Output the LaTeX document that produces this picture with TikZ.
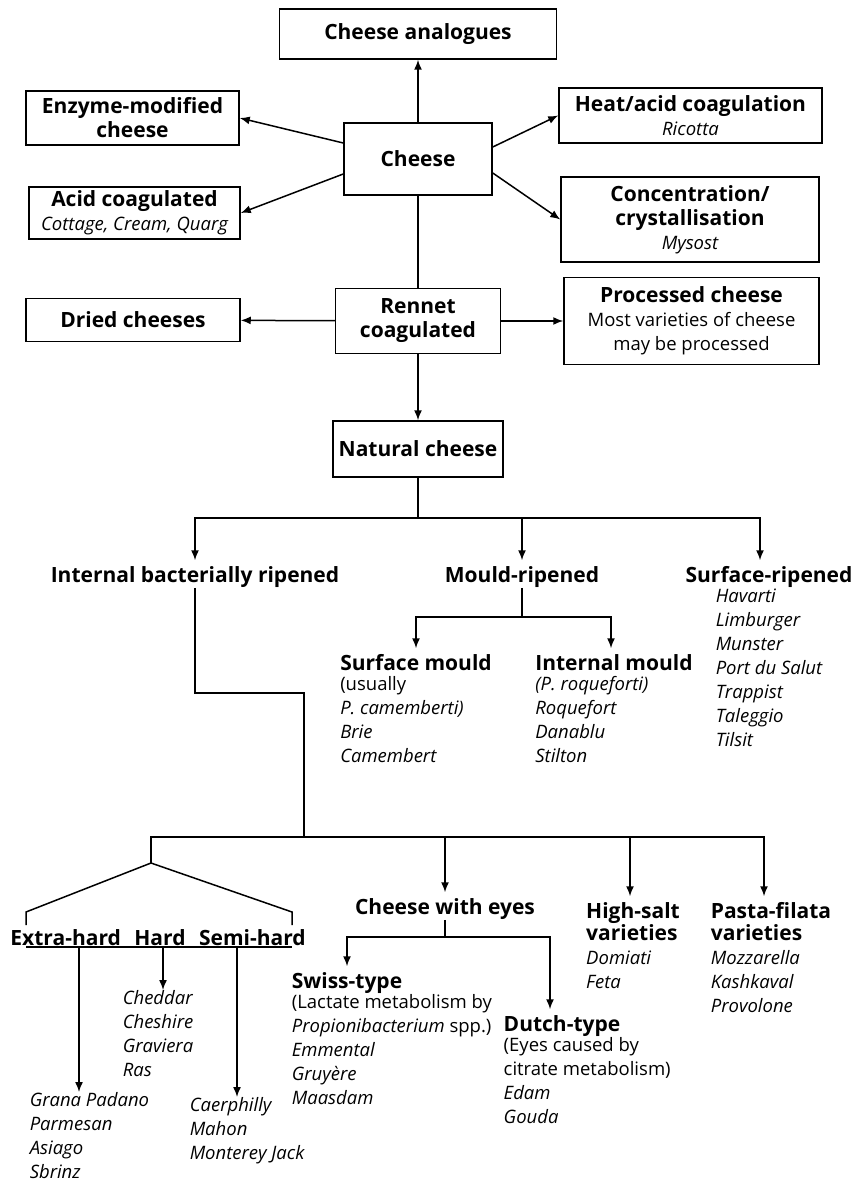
\documentclass[tikz,border=0pt]{standalone}
\usepackage{fontspec}
\setmainfont{Open Sans}
\usetikzlibrary{arrows.meta,positioning}
\newcommand{\chsize}{\fontsize{18.5}{24}\selectfont}
\newcommand{\chhead}{\fontsize{21}{24}\selectfont\bfseries}

\begin{document}
\begin{tikzpicture}[x=1pt,y=-1pt,>={Latex[length=10pt,width=8pt]},line width=1.5pt,
    box/.style={draw,align=center,font=\chhead,inner sep=2pt},
    head/.style={font=\chhead,inner sep=0pt,text height=21pt,text depth=5pt},
    kinds/.style={font=\chsize\itshape,align=left,inner sep=0pt,anchor=north west,execute at begin node=\strut}]
    \useasboundingbox (0,0) rectangle (855,1182);

    \node[box,minimum width=277pt,minimum height=50pt] (analog) at (418,34) {Cheese analogues};
    \node[box,minimum width=213pt,minimum height=54pt] (enzyme) at (132.5,118) {Enzyme-modified\\cheese};
    \node[box,minimum width=263pt,minimum height=55pt] (heat) at (690.5,115.5) {Heat/acid coagulation\\{\chsize\mdseries\itshape Ricotta}};
    \node[box,minimum width=148pt,minimum height=72pt] (cheese) at (418,159) {Cheese};
    \node[box,minimum width=211pt,minimum height=52pt] (acid) at (134.5,213) {Acid coagulated\\{\chsize\mdseries\itshape Cottage, Cream, Quarg}};
    \node[box,minimum width=258pt,minimum height=85pt] (conc) at (690,219.5) {Concentration/\\crystallisation\\{\chsize\mdseries\itshape Mysost}};
    \node[box,minimum width=214pt,minimum height=43pt] (dried) at (133,320) {Dried cheeses};
    \node[box,minimum width=165pt,minimum height=65pt] (rennet) at (418,321) {Rennet\\coagulated};
    \node[box,minimum width=255pt,minimum height=87pt] (proc) at (691.5,321) {Processed cheese\\{\chsize\mdseries Most varieties of cheese}\\{\chsize\mdseries may be processed}};
    \node[box,minimum width=170pt,minimum height=56pt] (natural) at (418,449) {Natural cheese};

    \node[head] (ibr) at (195,574) {Internal bacterially ripened};
    \node[head] (mould) at (522,574) {Mould-ripened};
    \node[head] (surf) at (769,574) {Surface-ripened};
    \node[kinds] (surflist) at ([xshift=-54pt]surf.south) {Havarti\\Limburger\\Munster\\Port du Salut\\Trappist\\Taleggio\\Tilsit};

    \node[head] (smould) at (416,662) {Surface mould};
    \node[kinds] (smlist) at (smould.south west) {{\upshape (usually}\\P. camemberti)\\Brie\\Camembert};
    \node[head] (imould) at (614,662) {Internal mould};
    \node[kinds] (imlist) at (imould.south west) {(P. roqueforti)\\Roquefort\\Danablu\\Stilton};

    \node[head] (hard) at (160,937) {Hard};
    \node[head,left=12pt of hard] (xhard) {Extra-hard};
    \node[head,right=12pt of hard] (shard) {Semi-hard};
    \node[kinds] (xhlist) at (29,1092) {Grana Padano\\Parmesan\\Asiago\\Sbrinz};
    \node[kinds] (hdlist) at (122,990) {Cheddar\\Cheshire\\Graviera\\Ras};
    \node[kinds] (shlist) at (189,1097) {Caerphilly\\Mahon\\Monterey Jack};

    \node[head] (eyes) at (445,906) {Cheese with eyes};
    \node[head] (swiss) at (347,980) {Swiss-type};
    \node[kinds] (swlist) at (swiss.south west) {{\upshape (Lactate metabolism by}\\Propionibacterium {\upshape spp.)}\\Emmental\\Gruyère\\Maasdam};
    \node[head] (dutch) at (562,1023) {Dutch-type};
    \node[kinds] (dulist) at (dutch.south west) {{\upshape (Eyes caused by}\\{\upshape citrate metabolism)}\\Edam\\Gouda};

    \node[head] (hsalt) at (633,910) {High-salt};
    \node[kinds] (hslist) at (hsalt.south west) {{\upshape\chhead varieties}\\Domiati\\Feta};
    \node[head] (pasta) at (771,910) {Pasta-filata};
    \node[kinds] (palist) at (pasta.south west) {{\upshape\chhead varieties}\\Mozzarella\\Kashkaval\\Provolone};

    \coordinate (natfork) at (418,518);
    \coordinate (mouldfork) at (522,617);
    \coordinate (ibrbend) at (304,693);
    \coordinate (lowfork) at (304,837);
    \coordinate (roof) at (151,863);
    \coordinate (roofl) at (26,912);
    \coordinate (roofr) at (292,912);
    \coordinate (footl) at (26,925);
    \coordinate (footr) at (292,925);
    \coordinate (ull) at (26,947);
    \coordinate (ulr) at (292,947);
    \coordinate (ulx) at (79,947);
    \coordinate (ulh) at (163,947);
    \coordinate (uls) at (237,947);
    \coordinate (eyesfork) at (445,937);

    \path[->] (cheese) edge (analog);
    \path[->] ([yshift=16pt]cheese.west) edge (enzyme.east);
    \path[->] ([yshift=-15pt]cheese.west) edge (acid.east);
    \path[->] ([yshift=12pt]cheese.east) edge (heat.west);
    \path[->] ([yshift=-14pt]cheese.east) edge (conc.west);
    \path (cheese) edge (rennet);
    \path[->] (rennet) edge (dried);
    \path[->] (rennet) edge (proc);
    \path[->] (rennet) edge (natural);

    \draw (natural) -- (natfork);
    \draw[->] (natfork) -| (ibr);
    \draw[->] (natfork) -| (mould);
    \draw[->] (natfork) -| ([xshift=-9pt]surf.north);
    \draw (mould) -- (mouldfork);
    \draw[->] (mouldfork) -| (smould);
    \draw[->] (mouldfork) -| ([xshift=-3pt]imould.north);

    \draw (ibr) |- (ibrbend) -- (lowfork);
    \draw (lowfork) -| (roof);
    \draw[->] (lowfork) -| (eyes);
    \draw[->] (lowfork) -| ([xshift=-3pt]hsalt.north);
    \draw[->] (lowfork) -| ([xshift=-7pt]pasta.north);

    \draw (footl) -- (roofl) -- (roof) -- (roofr) -- (footr);
    \draw (ull) -- (ulr);
    \draw[->] (ulx) -- (ulx |- xhlist.north);
    \draw[->] (ulh) -- (ulh |- hdlist.north);
    \draw[->] (uls) -- (uls |- shlist.north);

    \draw (eyes) -- (eyesfork);
    \draw[->] (eyesfork) -| (swiss);
    \draw[->] (eyesfork) -| ([xshift=-12pt]dutch.north);
\end{tikzpicture}
\end{document}
